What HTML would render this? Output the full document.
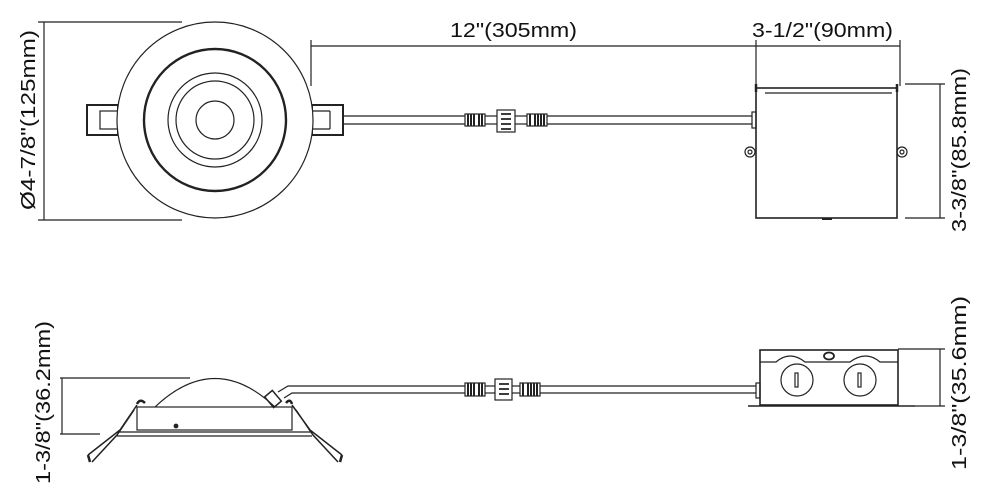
<!DOCTYPE html>
<html><head><meta charset="utf-8"><style>
html,body{margin:0;padding:0;background:#fff}
svg{display:block}
text{font-family:"Liberation Sans",Arial,sans-serif;font-size:20px;fill:#111}
</style></head><body>
<svg width="990" height="504" viewBox="0 0 990 504" xmlns="http://www.w3.org/2000/svg" fill="none" stroke="#222" stroke-width="1.2">
<!-- TOP VIEW fixture -->
<line x1="38" y1="22" x2="182" y2="22"/>
<line x1="38" y1="220" x2="182" y2="220"/>
<line x1="44" y1="22" x2="44" y2="220"/>
<text transform="translate(35,120) rotate(-90)" x="-90" textLength="180" lengthAdjust="spacingAndGlyphs" stroke="none">Ø4-7/8"(125mm)</text>
<rect x="87" y="105" width="31" height="30" stroke-width="2"/>
<rect x="100" y="111" width="18" height="18"/>
<rect x="312" y="105" width="31" height="30" stroke-width="2"/>
<line x1="312" y1="111" x2="330" y2="111"/><line x1="312" y1="129" x2="330" y2="129"/><line x1="330" y1="111" x2="330" y2="129"/>
<circle cx="215" cy="120" r="98" fill="#fff"/>
<circle cx="215" cy="120" r="71" stroke-width="2.4"/>
<circle cx="215" cy="120" r="47"/>
<circle cx="215" cy="120" r="39"/>
<circle cx="215" cy="120" r="19"/>
<!-- cable top -->
<line x1="343" y1="116" x2="465" y2="116"/><line x1="343" y1="124" x2="465" y2="124"/>
<line x1="547" y1="116" x2="752" y2="116"/><line x1="547" y1="124" x2="752" y2="124"/>
<g stroke-width="1.2">
<rect x="465" y="114" width="20" height="12" fill="#fff"/>
<path d="M468 114v12M471 114v12M474 114v12M479 114v12M482 114v12" stroke-width="2"/>
<line x1="485" y1="116" x2="497" y2="116"/><line x1="485" y1="124" x2="497" y2="124"/>
<rect x="497" y="110" width="18" height="22" fill="#fff"/>
<path d="M501 114h10M501 119h10M501 124h10M501 129h10" stroke-width="1.8"/>
<line x1="515" y1="116" x2="527" y2="116"/><line x1="515" y1="124" x2="527" y2="124"/>
<rect x="527" y="114" width="20" height="12" fill="#fff"/>
<path d="M530 114v12M535 114v12M538 114v12M541 114v12M544 114v12" stroke-width="2"/>
</g>
<!-- top dims -->
<line x1="311" y1="46" x2="900" y2="46"/>
<line x1="311" y1="40" x2="311" y2="86"/>
<line x1="756" y1="40" x2="756" y2="86"/>
<line x1="900" y1="40" x2="900" y2="86"/>
<text x="450" y="37" textLength="127" lengthAdjust="spacingAndGlyphs" stroke="none">12"(305mm)</text>
<text x="752" y="37" textLength="141" lengthAdjust="spacingAndGlyphs" stroke="none">3-1/2"(90mm)</text>
<!-- junction box top -->
<rect x="756" y="88" width="141" height="130" stroke-width="1.6"/>
<line x1="756" y1="84" x2="756" y2="92" stroke-width="2.5"/><line x1="897" y1="84" x2="897" y2="92" stroke-width="2.5"/>
<line x1="765" y1="93" x2="892" y2="93"/>
<rect x="752" y="112" width="4" height="16"/>
<circle cx="750" cy="152" r="5"/><circle cx="750" cy="152" r="2"/>
<circle cx="902" cy="152" r="5"/><circle cx="902" cy="152" r="2"/>
<line x1="822" y1="219" x2="832" y2="219" stroke-width="2"/>
<line x1="905" y1="84" x2="945" y2="84"/>
<line x1="905" y1="218" x2="945" y2="218"/>
<line x1="940" y1="84" x2="940" y2="218"/>
<text transform="translate(966,150) rotate(-90)" x="-82" textLength="164" lengthAdjust="spacingAndGlyphs" stroke="none">3-3/8"(85.8mm)</text>
<!-- SIDE VIEW fixture -->
<line x1="60" y1="378" x2="190" y2="378"/>
<line x1="60" y1="434" x2="100" y2="434"/>
<line x1="62" y1="378" x2="62" y2="434"/>
<text transform="translate(50,403) rotate(-90)" x="-81" textLength="163" lengthAdjust="spacingAndGlyphs" stroke="none">1-3/8"(36.2mm)</text>
<path d="M155 407 Q215 350 275 407"/>
<rect x="137" y="407" width="155" height="23"/>
<line x1="117" y1="432" x2="312" y2="432"/><line x1="117" y1="436" x2="312" y2="436"/>
<circle cx="176" cy="426" r="1.8" fill="#222"/>
<path d="M137 404 Q140 398 145 403" stroke-width="2.5"/>
<path d="M137 405 L120 430 L88 455 M134 410 L117 435 L92 462" stroke-width="1.5"/>
<path d="M88 455 L90 462" stroke-width="2.5"/>
<path d="M292 404 Q290 398 286 403" stroke-width="2.5"/>
<path d="M292 405 L310 430 L342 455 M296 410 L313 435 L338 462" stroke-width="1.5"/>
<path d="M342 455 L340 462" stroke-width="2.5"/>
<rect x="268" y="392" width="10" height="14" transform="rotate(-40 273 399)" stroke-width="1.5"/>
<path d="M278 392 L288 386 H465 M284 398 L292 393 H465"/>
<line x1="540" y1="386" x2="756" y2="386"/><line x1="540" y1="393" x2="756" y2="393"/>
<rect x="465" y="383" width="20" height="13" fill="#fff"/>
<path d="M468 383v13M471 383v13M474 383v13M479 383v13M482 383v13" stroke-width="2"/>
<rect x="495" y="379" width="17" height="21" fill="#fff"/>
<path d="M499 384h10M499 389h10M499 394h10" stroke-width="1.8"/>
<line x1="485" y1="386" x2="495" y2="386"/><line x1="485" y1="393" x2="495" y2="393"/>
<line x1="512" y1="386" x2="520" y2="386"/><line x1="512" y1="393" x2="520" y2="393"/>
<rect x="520" y="383" width="20" height="13" fill="#fff"/>
<path d="M523 383v13M528 383v13M531 383v13M534 383v13M537 383v13" stroke-width="2"/>
<!-- side junction box -->
<rect x="760" y="350" width="138" height="55" stroke-width="1.6"/>
<path d="M760 362 H776 Q790 350 805 362 H850 Q866 350 880 362 H898"/>
<ellipse cx="829" cy="356" rx="5" ry="3.5" stroke-width="1.8"/>
<circle cx="797" cy="380" r="16"/><rect x="795" y="373" width="3" height="14"/>
<circle cx="860" cy="380" r="16"/><rect x="858" y="373" width="3" height="14"/>
<rect x="756" y="383" width="4" height="15"/>
<line x1="748" y1="406" x2="915" y2="406" stroke-width="1.6"/>
<line x1="898" y1="349" x2="945" y2="349"/>
<line x1="915" y1="406" x2="945" y2="406"/>
<line x1="940" y1="349" x2="940" y2="406"/>
<text transform="translate(966,383) rotate(-90)" x="-87" textLength="174" lengthAdjust="spacingAndGlyphs" stroke="none">1-3/8"(35.6mm)</text>
</svg>
</body></html>
